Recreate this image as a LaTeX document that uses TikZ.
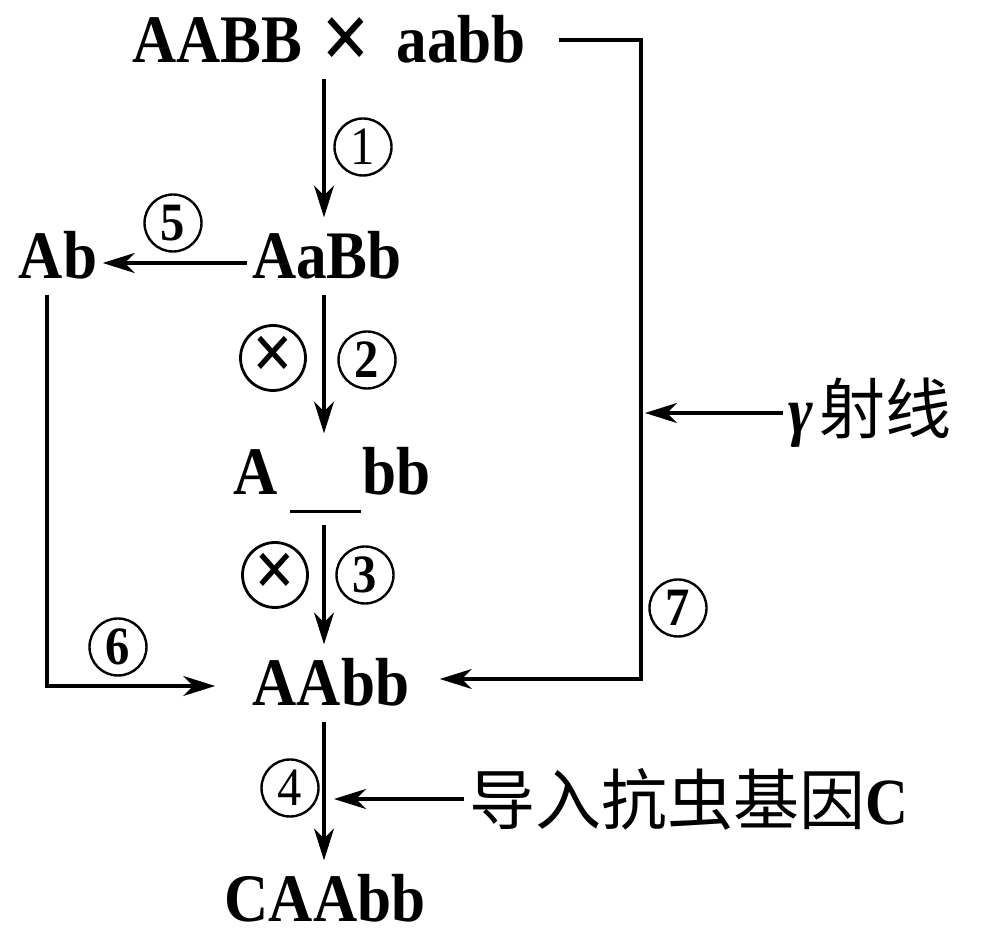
\documentclass[tikz,border=0pt]{standalone}
\usepackage{fontspec}
\setmainfont{Liberation Serif}[FakeStretch=0.9]
\newfontfamily\cjk{Noto Sans CJK SC}
\usetikzlibrary{arrows.meta}

\tikzset{
  geno/.style={font=\fontsize{34}{34}\selectfont\bfseries, text height=26pt, text depth=3pt, inner xsep=2pt, inner ysep=4pt},
  hao/.style={draw, circle, line width=1.2pt, minimum size=28.5pt, inner sep=0pt, font=\fontsize{27}{27}\selectfont\bfseries},
  ziyu/.style={draw, circle, line width=1.4pt, minimum size=32.5pt, inner sep=0pt, font=\fontsize{40}{40}\selectfont\bfseries},
  sidetext/.style={font=\fontsize{33}{33}\selectfont, inner xsep=2pt}
}

\begin{document}
\begin{tikzpicture}[x=0.5pt, y=-0.5pt, >={Stealth[length=16pt, width=10pt, inset=5pt]}, line width=1.6pt]
        \useasboundingbox (0,0) rectangle (992,940);
        % 主干与右侧竖线的位置
        \coordinate (trunk) at (324,0);
        \coordinate (R1) at (641,0);

        % 各基因型
        \node[geno, anchor=base] (P) at (329,63) {AABB\hspace{9.5pt}\raisebox{-3.5pt}{\fontsize{48}{48}\selectfont ×}\hspace{13pt}aabb};
        \node[geno, anchor=base] (F1) at (327,279) {AaBb};
        \node[geno, anchor=base] (Ab) at (58,279) {Ab};
        \node[geno, anchor=base, text depth=10pt] (F2) at (332,495) {A\hspace{6pt}\rule[-9pt]{35.5pt}{1.5pt}\hspace{1pt}bb};
        \node[geno, anchor=base] (F3) at (331,706) {AAbb};
        \node[geno, anchor=base] (CA) at (325,922) {CAAbb};

        % 右侧文字
        \node[sidetext, anchor=west] (gamma) at (783,413) {{\bfseries\itshape γ}\hspace{3pt}{\cjk 射线}};
        \node[sidetext, anchor=west] (gene) at (464,799) {{\cjk 导入抗虫基因}{\bfseries C}};

        % 主干箭头 ①②③④
        \draw[->] (P.south -| trunk) -- (F1.north -| trunk);
        \draw[->] (F1.south -| trunk) -- (F2.north -| trunk);
        \draw[->] (F2.south -| trunk) -- (F3.north -| trunk);
        \draw[->] (F3.south -| trunk) -- (CA.north -| trunk);

        % ⑤ 花药离体培养
        \draw[->] ([yshift=8pt]F1.base west) -- ([yshift=8pt]Ab.base east);
        % ⑥
        \draw[->] ([xshift=-5.5pt]Ab.south) |- ([xshift=-16pt, yshift=10pt]F3.base west);
        % ⑦ 诱变
        \coordinate (P7) at ([xshift=14pt, yshift=11.5pt]P.base east);
        \draw[->] (P7) -- (P7 -| R1) |- ([xshift=12.5pt, yshift=13.5pt]F3.base east);
        \draw[->] (gamma.west) -- ([xshift=2pt]gamma.west -| R1);
        % 导入基因
        \draw[->] (gene.west) -- ([xshift=5pt]gene.west -| trunk);

        % 序号
        \node[hao] (n1) at (363,147) {\mdseries 1};
        \node[hao] (n2) at (367,360) {2};
        \node[hao] (n3) at (365,575) {3};
        \node[hao] (n4) at (290,788) {\mdseries 4};
        \node[hao] (n5) at (173,223) {5};
        \node[hao] (n6) at (118,647) {6};
        \node[hao] (n7) at (678,608) {7};

        % 自交符号
        \node[ziyu] (z1) at (273,358) {×};
        \node[ziyu] (z2) at (275,575) {×};
\end{tikzpicture}
\end{document}
